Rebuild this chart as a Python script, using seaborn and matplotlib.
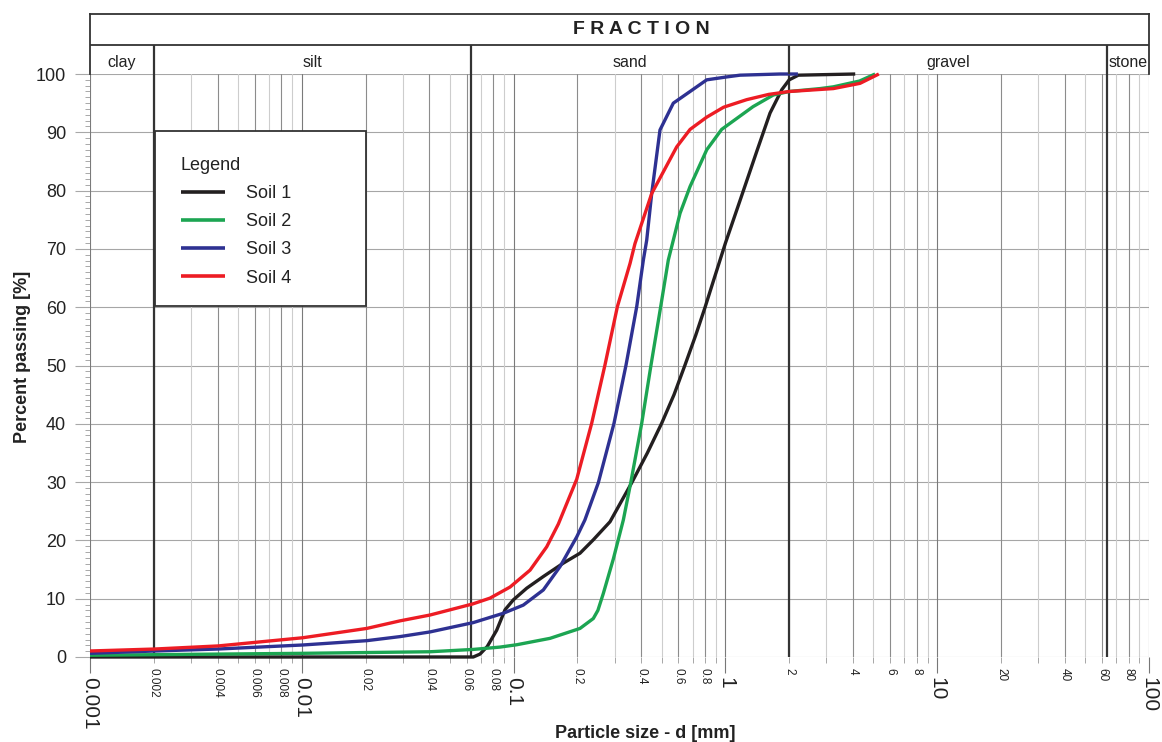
import numpy as np
import pandas as pd
import matplotlib
matplotlib.use("Agg")
import matplotlib.pyplot as plt
import matplotlib.ticker as mticker
from matplotlib.patches import Rectangle
import seaborn as sns

# ---------------- data ----------------
soil1_d = [0.001, 0.0645, 0.0694, 0.0751, 0.0832, 0.0911, 0.0997, 0.1153, 0.1381, 0.1716,
           0.2058, 0.2378, 0.2852, 0.3612, 0.428, 0.5002, 0.572, 0.6447, 0.7241, 0.8017,
           0.8616, 1.0, 1.172, 1.405, 1.624, 1.845, 2.0, 2.209, 4.1]
soil1_p = [0, 0, 0.5, 1.8, 4.6, 8.1, 9.8, 11.8, 13.8, 16.1,
           17.8, 20.1, 23.2, 29.9, 35.0, 40.1, 45.0, 50.1, 55.2, 60.0,
           63.6, 71.0, 78.3, 86.7, 93.3, 97.3, 99.0, 99.8, 100]

soil2_d = [0.001, 0.0101, 0.0403, 0.0645, 0.0863, 0.1034, 0.1486, 0.2058, 0.2378, 0.25,
           0.2652, 0.2956, 0.3296, 0.3573, 0.4026, 0.4454, 0.4948, 0.5375, 0.5675, 0.6105,
           0.6808, 0.816, 0.96, 1.35, 1.683, 2.0, 2.797, 3.232, 4.3, 5.09]
soil2_p = [0.3, 0.63, 0.9, 1.3, 1.7, 2.1, 3.2, 4.9, 6.6, 8.0,
           10.9, 16.8, 23.5, 29.9, 40.1, 50.1, 60.1, 68.1, 71.5, 76.1,
           80.7, 87.0, 90.5, 94.4, 96.4, 97.0, 97.5, 97.8, 98.8, 100]

soil3_d = [0.001, 0.002027, 0.004035, 0.0101, 0.02025, 0.0291, 0.0403, 0.0645, 0.0894, 0.1111,
           0.1381, 0.1656, 0.1986, 0.217, 0.2512, 0.2979, 0.3395, 0.3813, 0.4098,
           0.425, 0.4487, 0.491, 0.5675, 0.6808, 0.816, 1.014, 1.172, 1.81, 2.2]
soil3_p = [0.63, 1.03, 1.37, 2.06, 2.8, 3.5, 4.3, 5.9, 7.5, 8.9,
           11.5, 15.5, 20.6, 23.5, 29.9, 40.1, 50.1, 60.1, 68.1,
           71.5, 79.5, 90.4, 95.0, 97.0, 99.0, 99.5, 99.8, 100, 100]

soil4_d = [0.001, 0.002027, 0.004035, 0.0101, 0.02025, 0.0291, 0.0403, 0.0641, 0.0774, 0.0962,
           0.1196, 0.1433, 0.1626, 0.1986, 0.2337, 0.27, 0.309, 0.3545, 0.374,
           0.4487, 0.5888, 0.681, 0.816, 0.98, 1.26, 1.6, 2.0, 3.232, 4.32, 5.3]
soil4_p = [1.03, 1.37, 1.9, 3.3, 4.9, 6.2, 7.2, 9.1, 10.1, 12.0,
           14.9, 18.9, 22.8, 30.5, 40.1, 50.1, 60.1, 67.5, 70.9,
           79.5, 87.5, 90.5, 92.6, 94.3, 95.6, 96.5, 97.0, 97.5, 98.4, 100]

series_names = ["Soil 1", "Soil 2", "Soil 3", "Soil 4"]
series_colors = ["#231f20", "#1ca552", "#2e3192", "#ed1c24"]

fraction_names = ["clay", "silt", "sand", "gravel", "stone"]
fraction_edges = [0.001, 0.002, 0.063, 2, 63, 100]

y_ticks = [0, 10, 20, 30, 40, 50, 60, 70, 80, 90, 100]
x_major_ticks = [0.001, 0.01, 0.1, 1, 10, 100]

# ---------------- style ----------------
sns.set_theme(style="white")
plt.rcParams["font.family"] = ["Liberation Sans", "DejaVu Sans"]

frames = []
for name, d, p in zip(series_names,
                      [soil1_d, soil2_d, soil3_d, soil4_d],
                      [soil1_p, soil2_p, soil3_p, soil4_p]):
    frames.append(pd.DataFrame({"d": d, "P": p, "Soil": name}))
df = pd.concat(frames, ignore_index=True)

fig = plt.figure(figsize=(11.62, 7.42), dpi=100)
L, B, W, H = 0.07745, 0.11456, 0.9114, 0.7857
ax = fig.add_axes([L, B, W, H])

sns.lineplot(data=df, x="d", y="P", hue="Soil", hue_order=series_names,
             palette=dict(zip(series_names, series_colors)),
             estimator=None, sort=False, linewidth=2.4, ax=ax, zorder=4)
for ln in ax.lines:
    ln.set_clip_on(False)
    ln.set_solid_capstyle("butt")
    ln.set_solid_joinstyle("round")

ax.set_xscale("log")
ax.set_xlim(fraction_edges[0], fraction_edges[-1])
ax.set_ylim(0, 100)
for s in ax.spines.values():
    s.set_visible(False)

# ticks
ax.xaxis.set_major_locator(mticker.FixedLocator(x_major_ticks))
ax.xaxis.set_major_formatter(mticker.FuncFormatter(lambda v, pos: f"{v:g}"))
ax.xaxis.set_minor_locator(mticker.LogLocator(base=10, subs=np.arange(2, 10), numticks=100))


def minor_fmt(v, pos):
    m = int(round(v / 10 ** np.floor(np.log10(v) + 1e-9)))
    return f"{v:g}" if m in (2, 4, 6, 8) else ""


ax.xaxis.set_minor_formatter(mticker.FuncFormatter(minor_fmt))
ax.set_yticks(y_ticks)
ax.yaxis.set_minor_locator(mticker.MultipleLocator(1))

ax.tick_params(axis="x", which="major", bottom=True, length=11.5, width=0.8, color="#777777",
               pad=3, labelsize=15, labelcolor="#222222")
ax.tick_params(axis="x", which="minor", bottom=True, length=4.3, width=0.6, color="#999999",
               pad=3.6, labelsize=8.5, labelcolor="#222222")
ax.tick_params(axis="y", which="major", left=True, length=10.8, width=0.8, color="#a8a8a8",
               pad=6.5, labelsize=13, labelcolor="#222222")
ax.tick_params(axis="y", which="minor", left=True, length=3.6, width=0.6, color="#9a9a9a")

for lab in ax.get_xticklabels(which="both"):
    lab.set_rotation(270)
    lab.set_rotation_mode("default")
    lab.set_ha("center")
    lab.set_va("top")

# grid
ax.grid(True, axis="y", which="major", color="#a6a6a6", lw=0.8, zorder=0)
ax.set_axisbelow(True)
for v in ax.xaxis.get_majorticklocs():
    ax.axvline(v, color="#7a7a7a", lw=0.8, zorder=1)
for v in ax.xaxis.get_minorticklocs():
    if v < fraction_edges[0] or v > fraction_edges[-1]:
        continue
    labeled = minor_fmt(v, None) != ""
    ax.axvline(v, color="#8c8c8c" if labeled else "#cdcdcd", lw=0.8, zorder=1)

# fraction boundaries
for b in fraction_edges[1:-1]:
    ax.axvline(b, color="#333333", lw=1.6, zorder=2)

# labels
ax.set_xlabel("Particle size - d [mm]", fontsize=13, fontweight="bold", color="#222222")
ax.xaxis.set_label_coords(0.524, -0.116)
ax.set_ylabel("Percent passing [%]", fontsize=13, fontweight="bold", color="#222222")
ax.yaxis.set_label_coords(-0.056, 0.515)

# legend
handles, labels = ax.get_legend_handles_labels()
box = Rectangle((0.0614, 0.602), 0.1992, 0.3002, transform=ax.transAxes,
                facecolor="white", edgecolor="#333333", lw=1.3, zorder=5)
ax.add_patch(box)
leg = ax.legend(handles, labels, title="Legend", loc="upper left",
                bbox_to_anchor=(0.0859, 0.858), frameon=False, fontsize=13,
                title_fontsize=13, alignment="left", handlelength=2.44,
                handletextpad=1.17, labelspacing=0.62, borderpad=0, borderaxespad=0)
leg.set_zorder(6)
for ln in leg.get_lines():
    ln.set_linewidth(2.6)
for t in leg.get_texts():
    t.set_color("#222222")
leg.get_title().set_color("#222222")

# header (FRACTION table)
hax = fig.add_axes([L, 0.9003, W, 0.0809])
hax.set_xscale("log")
hax.set_xlim(fraction_edges[0], fraction_edges[-1])
hax.set_ylim(0, 1)
hax.xaxis.set_major_locator(mticker.NullLocator())
hax.xaxis.set_minor_locator(mticker.NullLocator())
hax.yaxis.set_major_locator(mticker.NullLocator())
hax.patch.set_alpha(0)
hax.spines["bottom"].set_visible(False)
for k in ("top", "left", "right"):
    hax.spines[k].set_color("#333333")
    hax.spines[k].set_linewidth(1.3)
hax.axhline(0.483, color="#333333", lw=1.3)
for b in fraction_edges[1:-1]:
    hax.vlines(b, 0, 0.483, color="#333333", lw=1.6)
for name, lo, hi in zip(fraction_names, fraction_edges[:-1], fraction_edges[1:]):
    hax.text(np.sqrt(lo * hi), 0.19, name, ha="center", va="center",
             fontsize=11.5, color="#222222")
hax.text(0.521, 0.735, "F R A C T I O N", transform=hax.transAxes, ha="center",
         va="center", fontsize=14, fontweight="bold", color="#222222")

fig.savefig("out.png", dpi=100)
